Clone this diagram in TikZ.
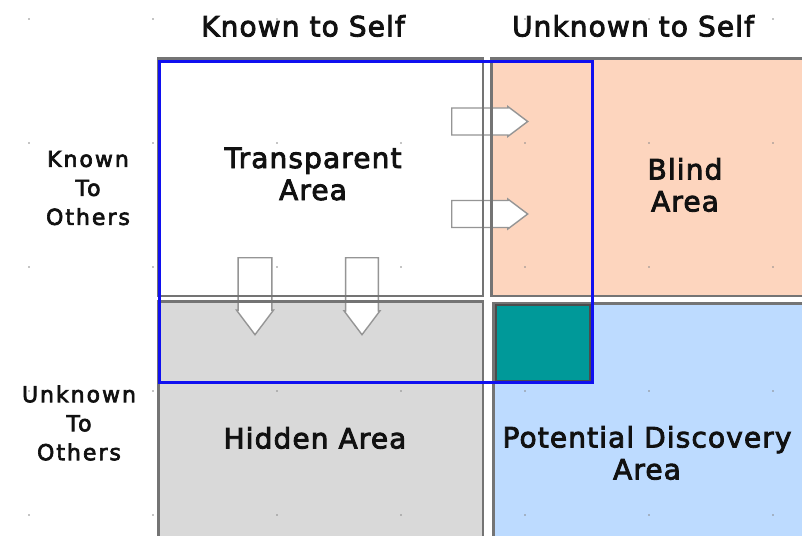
\documentclass[tikz,border=0pt]{standalone}
\usepackage{fontspec}
\setmainfont{DejaVu Sans}
\newfontfamily\hdrfont[LetterSpace=4,FakeBold=3]{DejaVu Sans}
\newfontfamily\sidefont[LetterSpace=9,FakeBold=3]{DejaVu Sans}
\newfontfamily\areafont[LetterSpace=4,FakeBold=3]{DejaVu Sans}
\usetikzlibrary{shapes.arrows}
\definecolor{blindfill}{HTML}{FDD5BE}
\definecolor{hiddenfill}{HTML}{D9D9D9}
\definecolor{potfill}{HTML}{BDDBFF}
\definecolor{tealfill}{HTML}{009999}
\definecolor{outlineblue}{HTML}{1010F0}
\definecolor{bordergray}{HTML}{747474}
\definecolor{arrowgray}{HTML}{959595}
\definecolor{dotgray}{HTML}{8A8A8A}
\definecolor{txt}{HTML}{111111}
\begin{document}
\begin{tikzpicture}[x=1pt,y=-1pt,
  quad/.style={inner sep=0pt, outer sep=0pt, anchor=north west},
  boxborder/.style={draw=bordergray, line width=2.5pt},
  blockarrow/.style={single arrow, draw=arrowgray, fill=white, line width=1.4pt,
     inner xsep=0pt, single arrow head extend=1pt, single arrow tip angle=74, anchor=tail},
  mainlbl/.style={align=center, text=txt, font=\areafont\fontsize{28}{32}\selectfont},
  hdrlbl/.style={text=txt, font=\hdrfont\fontsize{28}{32}\selectfont},
  sidelbl/.style={align=center, text=txt, font=\sidefont\fontsize{22}{29}\selectfont},
  griddot/.style={fill=dotgray, inner sep=0pt, minimum size=1.6pt, circle}]
\useasboundingbox (0,0) rectangle (802,535);
\fill[white] (0,0) rectangle (802,535);

% quadrant fills
\node[quad, fill=white, minimum width=327pt, minimum height=240pt] (transparent) at (157,57) {};
\node[quad, fill=blindfill, minimum width=320pt, minimum height=240pt] (blind) at (490,57) {};
\node[quad, fill=hiddenfill, minimum width=327pt, minimum height=240pt] (hidden) at (157,300) {};
\node[quad, fill=potfill, minimum width=318pt, minimum height=240pt] (potential) at (492,302) {};

% block arrows
\node[blockarrow, minimum width=30pt, minimum height=76pt, inner ysep=8.5pt] (ar1) at (451,121.5) {};
\node[blockarrow, minimum width=30pt, minimum height=76pt, inner ysep=8.5pt] (ar2) at (451,214) {};
\node[blockarrow, minimum width=37pt, minimum height=77pt, inner ysep=9.5pt, rotate=-90] (ad1) at (255,257) {};
\node[blockarrow, minimum width=36pt, minimum height=77pt, inner ysep=9.5pt, rotate=-90] (ad2) at (362,257) {};

% quadrant borders (drawn inside each box)
\foreach \q in {transparent,blind,hidden,potential}
  \draw[boxborder] ([shift={(1.25,1.25)}]\q.north west) rectangle ([shift={(-1.25,-1.25)}]\q.south east);

% teal square
\node[quad, fill=tealfill, draw=black!70, line width=2pt, minimum width=94pt, minimum height=76pt] (overlap) at (496,305) {};

% grid dots
\foreach \gx in {29,153,277,401,525,649,773}
  \foreach \gy in {19,143,267,391,515}
    \node[griddot] (d\gx-\gy) at (\gx,\gy) {};

% blue window outline
\node[quad, draw=outlineblue, line width=3pt, minimum width=433pt, minimum height=321pt] (window) at (159.5,61.5) {};

% labels
\node[hdrlbl] (hknown) at (303,26) {Known to Self};
\node[hdrlbl] (hunknown) at (633,26) {Unknown to Self};
\node[sidelbl] (sknown) at (88,188) {Known\\To\\Others};
\node[sidelbl] (sunknown) at (79,423) {Unknown\\To\\Others};
\node[mainlbl] (ltransparent) at (313,174) {Transparent\\Area};
\node[mainlbl] (lblind) at (685,185) {Blind\\Area};
\node[mainlbl] (lhidden) at (315,438) {Hidden Area};
\node[mainlbl] (lpotential) at (647,453) {Potential Discovery\\Area};
\end{tikzpicture}
\end{document}
